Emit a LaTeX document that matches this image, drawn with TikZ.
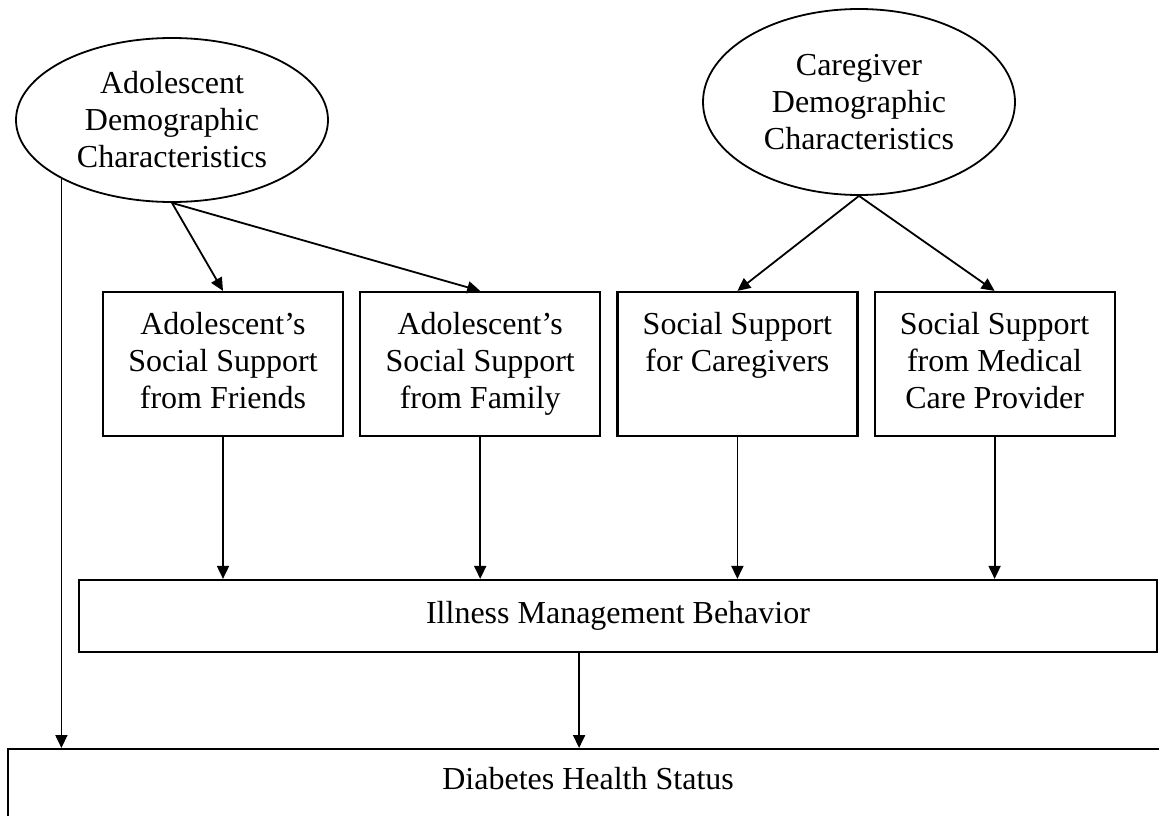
\documentclass[tikz,border=0pt]{standalone}
\usepackage{fontspec}
\setmainfont{Liberation Serif}
\usetikzlibrary{shapes.geometric,positioning,arrows.meta}

\begin{document}
\begin{tikzpicture}[x=1pt,y=-1pt,font=\fontsize{32pt}{37pt}\selectfont,
		oval/.style={ellipse,draw,line width=1.8pt,inner sep=0pt,align=center},
		box/.style={rectangle,draw,line width=2.2pt,align=center,minimum width=240pt,minimum height=144pt,inner sep=0pt},
		arr/.style={line width=1.8pt,-{Triangle[length=13pt,width=12pt]}}]
		\useasboundingbox (0,0) rectangle (1159,816);
		\clip (0,0) rectangle (1159,816);
		\node[oval,minimum width=312pt,minimum height=164pt] (adol) at (172,120) {Adolescent\\Demographic\\Characteristics};
		\node[oval,minimum width=312pt,minimum height=186pt] (care) at (859,102) {Caregiver\\Demographic\\Characteristics};
		\node[box] (friends) at (223,364) {\strut Adolescent's\\Social Support\\from Friends\strut};
		\node[box,right=15pt of friends] (family) {\strut Adolescent's\\Social Support\\from Family\strut};
		\node[box,right=15pt of family] (carers) {\strut Social Support\\for Caregivers\\\strut};
		\node[box,right=15pt of carers] (medical) {\strut Social Support\\from Medical\\Care Provider\strut};
		\node[box,minimum width=1078pt,minimum height=72pt] (illness) at (618,616) {Illness Management Behavior};
		\node[box,anchor=north west,minimum width=1160pt,minimum height=0pt,text height=32pt,text depth=80pt,inner ysep=8pt] (status) at (7,748) {Diabetes Health Status};
		\draw[arr] (adol.south) -- (friends.north);
		\draw[arr] (adol.south) -- (family.north);
		\draw[arr] (care.south) -- (carers.north);
		\draw[arr] (care.south) -- (medical.north);
		\foreach \n in {friends,family,carers,medical}
			\draw[arr] (\n.south) -- (\n.south |- illness.north);
		\draw[arr] ([xshift=-9pt]status.north |- illness.south) -- ([xshift=-9pt]status.north);
		\draw[arr] (adol.208.6) -- (adol.208.6 |- status.north);
	\end{tikzpicture}
\end{document}
